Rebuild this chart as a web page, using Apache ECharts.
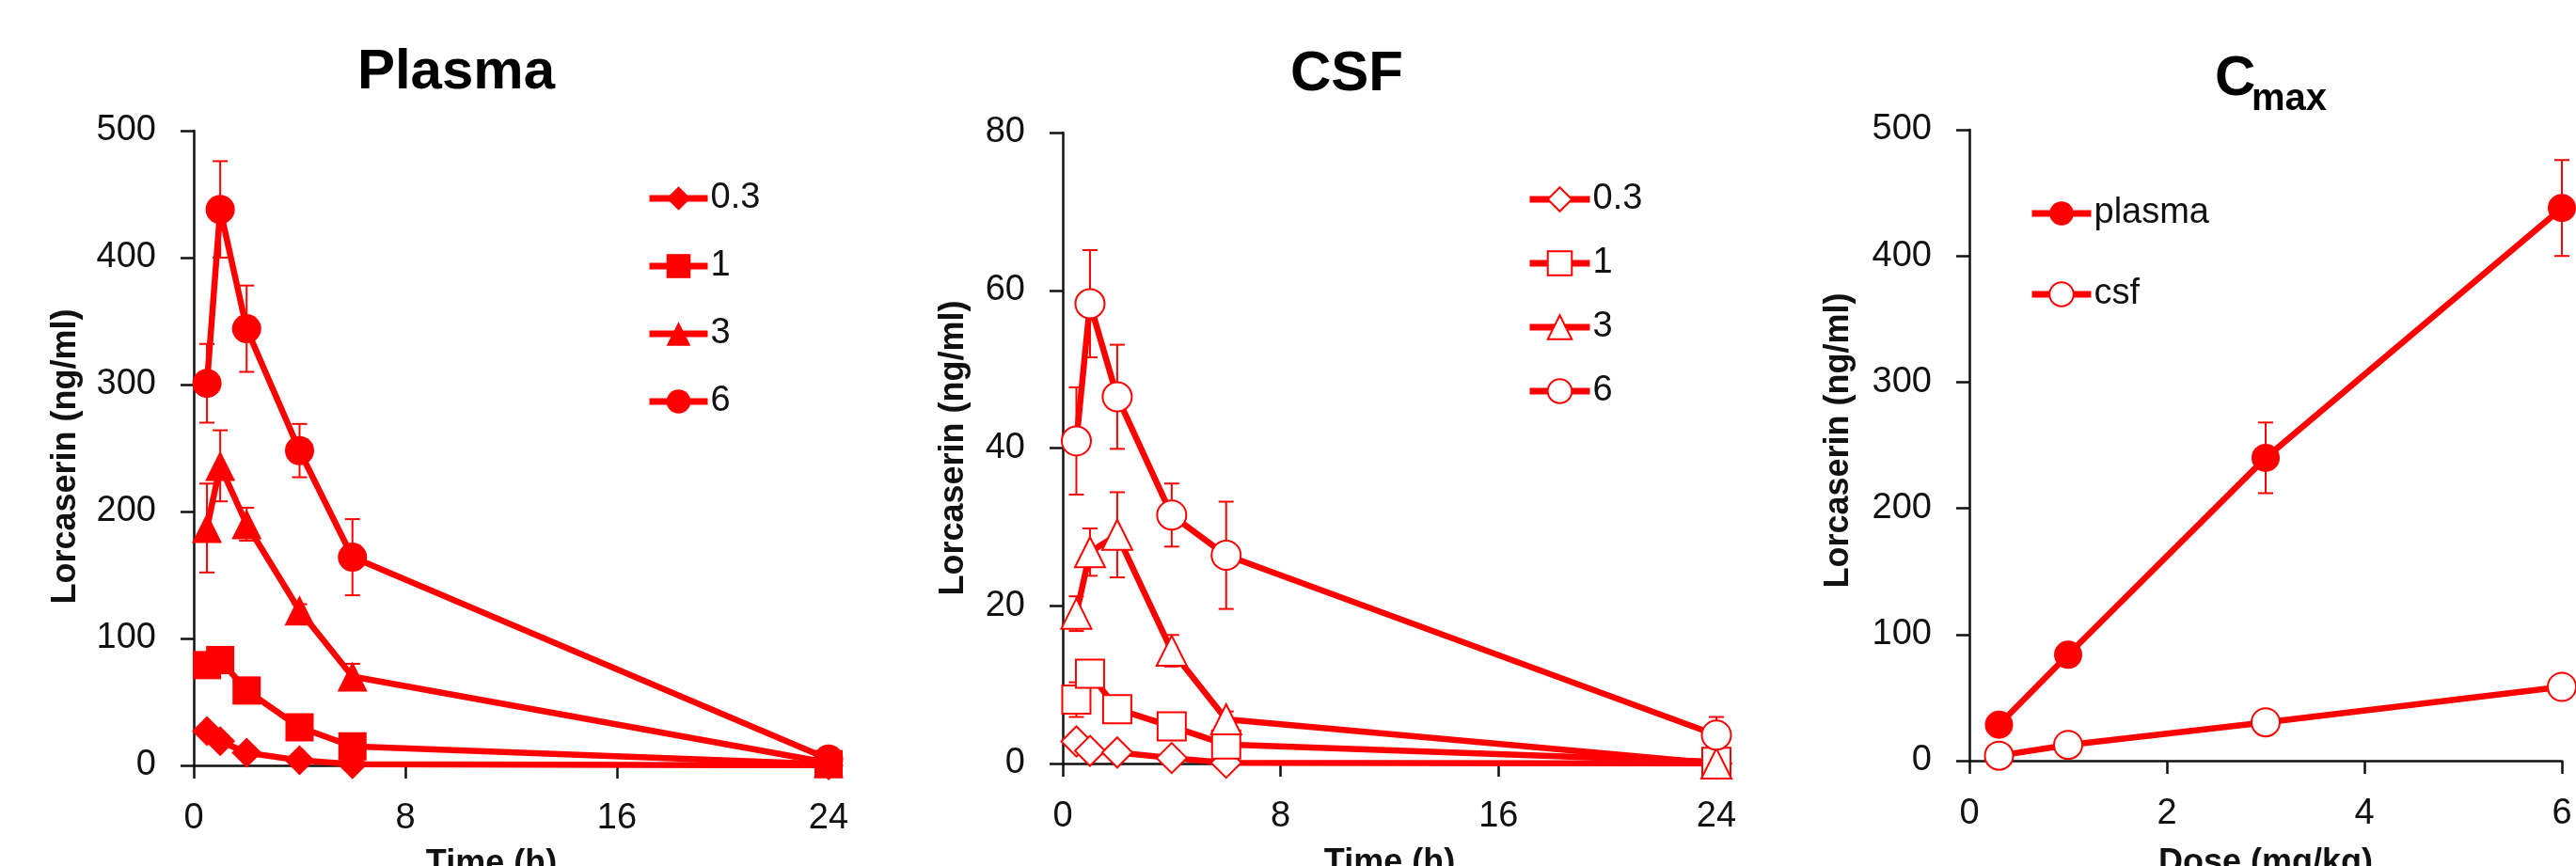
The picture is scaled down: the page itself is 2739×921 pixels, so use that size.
<!DOCTYPE html>
<html>
<head>
<meta charset="utf-8">
<title>Lorcaserin plasma / CSF</title>
<script src="https://cdn.jsdelivr.net/npm/echarts@6/dist/echarts.min.js"></script>
<style>
	html, body { margin: 0; padding: 0; background: #fff; }
	#main { width: 2739px; height: 921px; }
</style>
</head>
<body>
<div id="main"></div>
<script type="text/javascript">
	// sampling times (h) and doses (mg/kg)
	var times = [0.5, 1, 2, 4, 6, 24];
	var doseNames = ['0.3', '1', '3', '6'];
	var doses = [0.3, 1, 3, 6];

	// plasma (ng/ml), mean and error
	var plasma03 = [27, 19, 10, 4, 1, 0];
	var plasma1 = [79, 83, 59, 30, 15, 1];
	var plasma3 = [187, 236, 190, 122, 70, 2];
	var plasma6 = [301, 438, 344, 248, 164, 5];
	var plasmaErr03 = [3, 2, 2, 1, 0, 0];
	var plasmaErr1 = [6, 8, 5, 3, 2, 0];
	var plasmaErr3 = [35, 28, 13, 5, 10, 0];
	var plasmaErr6 = [31, 38, 34, 21, 30, 2];

	// CSF (ng/ml), mean and error
	var csf03 = [2.8, 1.6, 1.4, 0.7, 0.1, 0];
	var csf1 = [8.1, 11.4, 6.9, 4.7, 2.4, 0.2];
	var csf3 = [19, 26.8, 29, 14.3, 5.6, 0];
	var csf6 = [40.9, 58.3, 46.5, 31.5, 26.4, 3.6];
	var csfErr03 = [0.4, 0.3, 0.3, 0.2, 0, 0];
	var csfErr1 = [2.2, 1.5, 0.8, 0.6, 0.4, 0];
	var csfErr3 = [2.2, 3, 5.4, 2, 1, 0];
	var csfErr6 = [6.8, 6.8, 6.6, 4, 6.8, 2.3];

	// Cmax vs dose
	var cmaxPlasma = [28.5, 84, 240, 438];
	var cmaxPlasmaErr = [2, 5, 28, 38];
	var cmaxCsf = [4, 12.5, 30.4, 58.5];
	var cmaxCsfErr = [0.5, 1.5, 3, 5];

	// axis ticks
	var plasmaTicks = { min: 0, max: 500, interval: 100 };
	var csfTicks = { min: 0, max: 80, interval: 20 };
	var timeTicks = { min: 0, max: 24, interval: 8 };
	var doseTicks = { min: 0, max: 6, interval: 2 };

	var RED = '#ff0000';
	var INK = '#111111';
	var FONT = 'Liberation Sans';

	var chart = echarts.init(document.getElementById('main'));

	function pairs(xs, ys) {
		return xs.map(function (x, i) { return [x, ys[i]]; });
	}

	function triples(xs, ys, es) {
		return xs.map(function (x, i) { return [x, ys[i], es[i]]; });
	}

	// error bar drawn through the axes
	function renderErr(params, api) {
		var x = api.value(0), y = api.value(1), e = api.value(2);
		if (!e) return null;
		var top = api.coord([x, y + e]);
		var bot = api.coord([x, y - e]);
		var cap = 8;
		var st = { stroke: RED, lineWidth: 2 };
		return {
			type: 'group',
			children: [
				{ type: 'line', shape: { x1: top[0], y1: top[1], x2: bot[0], y2: bot[1] }, style: st },
				{ type: 'line', shape: { x1: top[0] - cap, y1: top[1], x2: top[0] + cap, y2: top[1] }, style: st },
				{ type: 'line', shape: { x1: bot[0] - cap, y1: bot[1], x2: bot[0] + cap, y2: bot[1] }, style: st }
			]
		};
	}

	function lineSeries(name, idx, data, symbol, size, open) {
		return {
			name: name,
			type: 'line',
			xAxisIndex: idx,
			yAxisIndex: idx,
			data: data,
			symbol: symbol,
			symbolSize: size,
			showAllSymbol: true,
			z: 3,
			lineStyle: { color: RED, width: 6.5 },
			itemStyle: open ? { color: '#ffffff', borderColor: RED, borderWidth: 2 } : { color: RED, borderWidth: 0 },
			emphasis: { disabled: true },
			animation: false
		};
	}

	function errSeries(idx, data) {
		return {
			type: 'custom',
			xAxisIndex: idx,
			yAxisIndex: idx,
			data: data,
			encode: { x: 0, y: 1 },
			renderItem: renderErr,
			z: 2,
			silent: true,
			animation: false
		};
	}

	function xAxisOf(idx, ticks, name, gap, pad) {
		return {
			type: 'value',
			gridIndex: idx,
			min: ticks.min,
			max: ticks.max,
			interval: ticks.interval,
			name: name,
			nameLocation: 'middle',
			nameGap: gap,
			nameTextStyle: { fontFamily: FONT, fontSize: 36, fontWeight: 'bold', color: INK, padding: pad || 0 },
			axisLine: { show: true, onZero: false, lineStyle: { color: INK, width: 2.5 } },
			axisTick: { show: true, length: 14, lineStyle: { color: INK, width: 2.5 } },
			axisLabel: { fontFamily: FONT, fontSize: 38, color: INK, margin: 38 },
			splitLine: { show: false }
		};
	}

	function yAxisOf(idx, ticks, gap, pad) {
		return {
			type: 'value',
			gridIndex: idx,
			min: ticks.min,
			max: ticks.max,
			interval: ticks.interval,
			name: 'Lorcaserin (ng/ml)',
			nameLocation: 'middle',
			nameGap: gap,
			nameTextStyle: { fontFamily: FONT, fontSize: 36, fontWeight: 'bold', color: INK, padding: pad || 0 },
			axisLine: { show: true, onZero: false, lineStyle: { color: INK, width: 2.5 } },
			axisTick: { show: true, length: 14, lineStyle: { color: INK, width: 2.5 } },
			axisLabel: { fontFamily: FONT, fontSize: 38, color: INK, margin: 40 },
			splitLine: { show: false }
		};
	}

	function legendOf(left, top, names, gap, w) {
		return {
			orient: 'vertical',
			left: left,
			top: top,
			padding: 0,
			itemGap: gap,
			itemWidth: w,
			itemHeight: 32,
			selectedMode: false,
			data: names,
			lineStyle: { color: RED, width: 7 },
			formatter: function (n) { return n.split('|').pop(); },
			textStyle: { fontFamily: FONT, fontSize: 38, color: INK, padding: [0, 0, 0, -2] }
		};
	}

	var plasmaSets = [plasma03, plasma1, plasma3, plasma6];
	var plasmaErrs = [plasmaErr03, plasmaErr1, plasmaErr3, plasmaErr6];
	var csfSets = [csf03, csf1, csf3, csf6];
	var csfErrs = [csfErr03, csfErr1, csfErr3, csfErr6];
	var symbols = ['diamond', 'rect', 'triangle', 'circle'];
	var sizes = [32, 30, 32, 31];

	var series = [];
	doseNames.forEach(function (d, i) {
		series.push(errSeries(0, triples(times, plasmaSets[i], plasmaErrs[i])));
		series.push(lineSeries('p|' + d, 0, pairs(times, plasmaSets[i]), symbols[i], sizes[i], false));
	});
	doseNames.forEach(function (d, i) {
		series.push(errSeries(1, triples(times, csfSets[i], csfErrs[i])));
		series.push(lineSeries('c|' + d, 1, pairs(times, csfSets[i]), symbols[i], sizes[i], true));
	});
	series.push(errSeries(2, triples(doses, cmaxPlasma, cmaxPlasmaErr)));
	series.push(lineSeries('plasma', 2, pairs(doses, cmaxPlasma), 'circle', 30, false));
	series.push(errSeries(2, triples(doses, cmaxCsf, cmaxCsfErr)));
	series.push(lineSeries('csf', 2, pairs(doses, cmaxCsf), 'circle', 30, true));

	var titleStyle = { fontFamily: FONT, fontWeight: 'bold', fill: '#000', verticalAlign: 'middle' };

	var option = {
		backgroundColor: '#ffffff',
		animation: false,
		// fixed plot boxes; axis names are allowed to run off the bottom edge
		grid: [
			{ left: 206, top: 139, width: 675, height: 675, outerBoundsMode: 'none', containLabel: false },
			{ left: 1130, top: 141, width: 695, height: 671, outerBoundsMode: 'none', containLabel: false },
			{ left: 2094, top: 138, width: 630, height: 671, outerBoundsMode: 'none', containLabel: false }
		],
		xAxis: [
			xAxisOf(0, timeTicks, 'Time (h)', 87, [0, 42, 0, 0]),
			xAxisOf(1, timeTicks, 'Time (h)', 88),
			xAxisOf(2, doseTicks, 'Dose (mg/kg)', 91)
		],
		yAxis: [
			yAxisOf(0, plasmaTicks, 118, [0, 18, 0, 0]),
			yAxisOf(1, csfTicks, 98),
			yAxisOf(2, plasmaTicks, 121, [0, 0, 0, 10])
		],
		legend: [
			legendOf(687, 192, doseNames.map(function (d) { return 'p|' + d; }), 34, 62),
			legendOf(1623, 193, doseNames.map(function (d) { return 'c|' + d; }), 30, 64),
			legendOf(2157, 208, ['plasma', 'csf'], 48, 63)
		],
		graphic: [
			{ type: 'text', x: 485, y: 77, style: Object.assign({ text: 'Plasma', fontSize: 60, align: 'center' }, titleStyle) },
			{ type: 'text', x: 1432, y: 79, style: Object.assign({ text: 'CSF', fontSize: 60, align: 'center' }, titleStyle) },
			{ type: 'text', x: 2355, y: 84, style: Object.assign({ text: 'C', fontSize: 60, align: 'left' }, titleStyle) },
			{ type: 'text', x: 2394, y: 106, style: Object.assign({ text: 'max', fontSize: 40, align: 'left' }, titleStyle) }
		],
		series: series
	};

	chart.setOption(option);
</script>
</body>
</html>
